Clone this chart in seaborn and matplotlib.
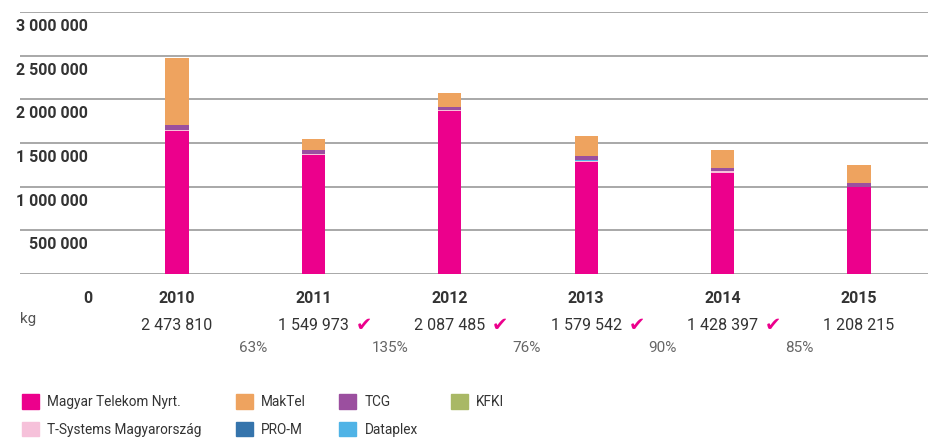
import numpy as np
import pandas as pd
import matplotlib.pyplot as plt
import matplotlib.patches as mpatches
import seaborn as sns

# Waste quantities by company (kg)
years = ['2010', '2011', '2012', '2013', '2014', '2015']
magyar_telekom = [1640000, 1365000, 1865000, 1280000, 1160000, 992000]
t_systems = [10000, 8000, 14000, 18000, 16000, 6000]
tcg = [48000, 44000, 36000, 45000, 40000, 45000]
pro_m = [2000, 1000, 1000, 1000, 1000, 1000]
dataplex = [1000, 1000, 1000, 1000, 1000, 1000]
kfki = [1000, 1000, 1000, 1000, 1000, 1000]
maktel = [770000, 128000, 160000, 230000, 206000, 205000]

totals_text = ['2 473 810', '1 549 973', '2 087 485', '1 579 542', '1 428 397', '1 208 215']
change_text = ['63%', '135%', '76%', '90%', '85%']
checked = [False, True, True, True, True, False]

ytick_values = [500000, 1000000, 1500000, 2000000, 2500000, 3000000]
ytick_labels = ['500 000', '1 000 000', '1 500 000', '2 000 000', '2 500 000', '3 000 000']

series = [
    ('Magyar Telekom Nyrt.', magyar_telekom, '#EC008C'),
    ('T-Systems Magyarország', t_systems, '#F6C1DA'),
    ('PRO-M', pro_m, '#3574AC'),
    ('Dataplex', dataplex, '#4FB3E6'),
    ('KFKI', kfki, '#A9B865'),
    ('TCG', tcg, '#9B4F9F'),
    ('MakTel', maktel, '#EEA35F'),
]

sns.set_style('white')
plt.rcParams['font.family'] = ['Roboto', 'DejaVu Sans']

fig = plt.figure(figsize=(9.29, 4.38), dpi=100)
ax = fig.add_axes([0.0215, 0.3744, 0.9785, 0.5982])

# gridlines behind bars
for v in [0] + ytick_values:
    ax.axhline(v, color='#9a9a9a', lw=1.2, zorder=0)

bottom = np.zeros(len(years))
for name, vals, col in series:
    df = pd.DataFrame({'year': years, 'kg': vals})
    sns.barplot(data=df, x='year', y='kg', color=col, width=0.17, bottom=bottom,
                ax=ax, saturation=1, zorder=2, edgecolor='none', linewidth=0)
    bottom = bottom + np.array(vals)

ax.set_ylim(0, 3000000)
ax.set_xlim(-1.151, 5.513)
sns.despine(ax=ax, left=True, bottom=True)
ax.set_yticks([])
ax.set_xlabel('')
ax.set_ylabel('')
ax.tick_params(axis='x', length=0, pad=12, labelsize=11.5, labelcolor='#333333')
for t in ax.get_xticklabels():
    t.set_fontweight('bold')

# y labels sit just below each gridline
for v, lab in zip(ytick_values, ytick_labels):
    ax.annotate(lab, xy=(0.075, v), xycoords=('axes fraction', 'data'),
                xytext=(0, -10.5), textcoords='offset points',
                ha='right', va='center', fontsize=11.5, fontweight='bold', color='#333333')

xt = ax.get_xaxis_transform()
ax.text(0.0795, -0.092, '0', transform=ax.transAxes, ha='right', va='center',
        fontsize=11.5, fontweight='bold', color='#333333')
ax.text(0.0, -0.172, 'kg', transform=ax.transAxes, ha='left', va='center',
        fontsize=11, color='#555555')

for i, txt in enumerate(totals_text):
    ax.text(i, -0.197, txt, transform=xt, ha='center', va='center',
            fontsize=11.5, color='#333333', clip_on=False)
    if checked[i]:
        ax.text(i + 0.37, -0.197, '\u2714', transform=xt, ha='center', va='center',
                fontsize=14, color='#EC008C', family='DejaVu Sans', clip_on=False)

for i, txt in enumerate(change_text):
    ax.text(i + 0.56, -0.284, txt, transform=xt, ha='center', va='center',
            fontsize=11, color='#666666', clip_on=False)

# legend: one small legend per column so the columns line up like the original
legend_cols = [['Magyar Telekom Nyrt.', 'T-Systems Magyarország'],
               ['MakTel', 'PRO-M'],
               ['TCG', 'Dataplex'],
               ['KFKI']]
col_x = [0.01, 0.241, 0.352, 0.472]
colors = {n: c for n, _, c in series}
for names, x0 in zip(legend_cols, col_x):
    handles = [mpatches.Patch(color=colors[n], label=n) for n in names]
    fig.legend(handles=handles, loc='upper left', bbox_to_anchor=(x0, 0.128), ncol=1,
               frameon=False, fontsize=9.8, handlelength=1.25, handleheight=1.25,
               handletextpad=0.6, labelspacing=0.95, labelcolor='#333333')

fig.savefig('out.png', dpi=100)
